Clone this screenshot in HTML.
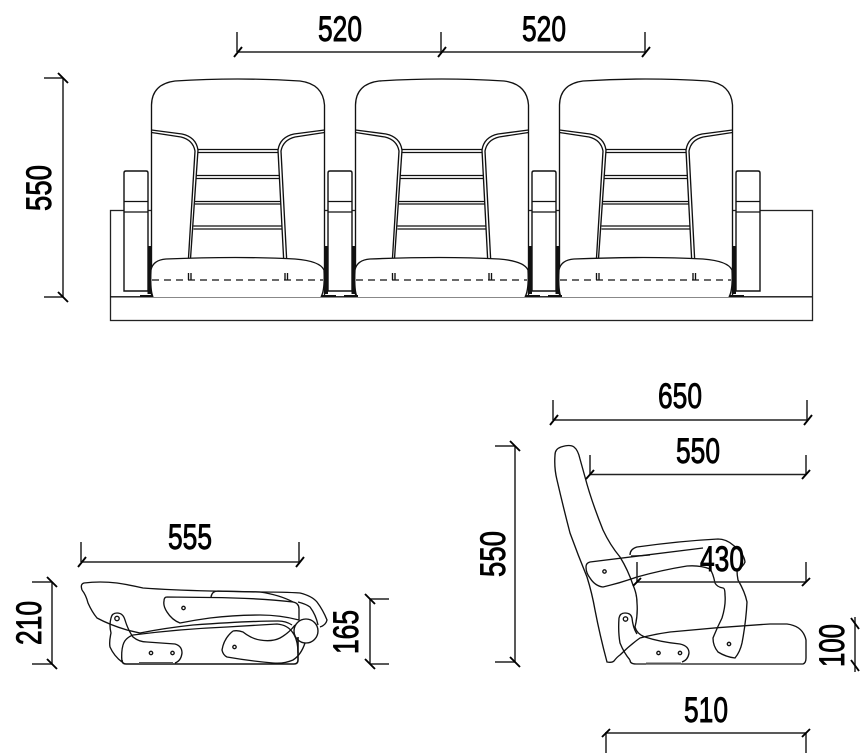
<!DOCTYPE html>
<html><head><meta charset="utf-8"><style>
html,body{margin:0;padding:0;background:#fff;width:860px;height:753px;overflow:hidden}
svg{display:block}
text{font-family:"Liberation Sans",sans-serif;fill:#000;font-size:35px;stroke:#000;stroke-width:.9}
.d{stroke:#222;stroke-width:1.5;fill:none}
.t{stroke:#000;stroke-width:1.9;fill:none}
.o{stroke:#111;stroke-width:1.35;fill:none}
</style></head><body>
<svg width="860" height="753" viewBox="0 0 860 753" xmlns="http://www.w3.org/2000/svg">
<defs>
<g id="arm">
<path d="M124 291V173Q124 171 126 171H146Q148 171 148 173V291Z" fill="#fff" stroke="#111" stroke-width="1.400"/>
<path d="M124 201.500H148M124 212H148" class="o"/>
</g>
<g id="seat" class="o">
<path d="M151.500 296V105Q152 84 175 81Q238 77 300 81Q323 84 324.500 105V296" fill="#fff"/>
<path d="M151.500 130L182 134Q196 137 198 150L190 266M151.500 132.500L181 137Q193 140 195 151L188 266"/>
<path d="M324.500 130L294 134Q280 137 278 150L284 266M324.500 132.500L295 137Q283 140 281 151L287 266"/>
<path d="M198 149.500H278M198 152.500H278M196 175.500H279M196 178.500H279M195 201.500H281M195 204H281M193.500 226H282.500M193.500 229H282.500"/>
<path d="M153 297Q150 290 151 270Q153 260 166 259Q240 256 295 259Q320 261 324 270Q325 290 321 297" fill="#fff"/>
<path d="M152 280H323" stroke-dasharray="7 5"/>
<path d="M188.500 273V280M191 273V280M285 273V280M287.500 273V280"/>
</g>
</defs>
<rect x="110.500" y="210.500" width="702" height="110" fill="none" stroke="#222" stroke-width="1.300"/>
<path d="M110 296.800H812" stroke="#111" stroke-width="1.400"/>
<use href="#arm"/><use href="#arm" x="204"/><use href="#arm" x="408"/><use href="#arm" x="612"/>
<use href="#seat"/><use href="#seat" x="204"/><use href="#seat" x="408"/>
<path d="M147.500 246H151V294H147.500ZM324.500 246H328V294H324.500ZM351.500 246H355V294H351.500ZM528.500 246H532V294H528.500ZM555.500 246H559V294H555.500ZM732.500 246H736V294H732.500Z" fill="#111"/>
<path d="M140 295H153V297H140ZM322 295H336V297H322ZM344 295H358V297H344ZM526 295H540V297H526ZM548 295H562V297H548ZM730 295H744V297H730Z" fill="#111"/>

<!-- top dims -->
<path class="d" d="M237 52H645M237 32V52M441 32V52M645 32V52"/>
<path class="t" d="M234 57L242 47M438 57L446 47M642 57L650 47"/>
<text x="318" y="41" textLength="44" lengthAdjust="spacingAndGlyphs">520</text>
<text x="522" y="41" textLength="44" lengthAdjust="spacingAndGlyphs">520</text>
<path class="d" d="M63 78V297M44 78H63M44 297H63"/>
<path class="t" d="M58 73L68 83M58 292L68 302"/>
<text transform="translate(51,211) rotate(-90)" textLength="46" lengthAdjust="spacingAndGlyphs">550</text>

<!-- folded side view -->
<g class="o">
<path d="M82 590Q80 584 84 583Q100 581 117 583Q130 585 143 588Q170 590 210 591L260 592Q285 592 300 593Q312 596 317 602Q323 610 327 620Q326 625 320 627"/>
<path d="M298 602Q306 604 310 607Q316 615 318 625"/>
<path d="M82 590Q86 595 88 603Q92 612 97 618Q110 625 127 630L140 633Q165 628 193 625Q250 621 278 621Q286 621 292 625"/>
<path d="M123 645Q125 638 133 635Q180 629 227 627L277 624Q288 625 293 633Q298 640 298 653"/>
<path d="M167 597L210 597.500Q260 598 293 602Q299 603 299 609V620Q280 615 260 615Q235 615 210 618Q195 620 180 623Q172 620 167 612Q163 606 164 601Q164 597 167 597Z"/>
<path d="M211 597Q212 591 218 591L260 592Q280 595 293 602"/>
<circle cx="306" cy="631" r="12" fill="none"/>
<path d="M111 618Q112 613 117 613Q123 613 125 620Q128 630 133 637Q139 642 147 642L175 644Q182 646 182 653Q181 661 175 663"/>
<path d="M111 618Q109 625 111 633Q109 642 110 647Q114 656 122 662"/>
<path d="M122 662Q121 652 123 645"/>
<path d="M233 631Q238 630 243 632Q252 639 260 640Q272 642 280 638Q289 633 295 625M233 631Q224 638 222 650Q223 655 227 657Q250 661 273 663Q284 664 293 660Q301 655 305 643"/>
<path d="M298 637V660Q298 664 294 664H126Q122 664 122 660" stroke-width="1.600"/>
<path d="M139 663H173" stroke-width="2" stroke="#555"/>
<circle cx="117" cy="618.500" r="2.200"/><circle cx="183.500" cy="608" r="1.700"/><circle cx="151" cy="653" r="1.700"/><circle cx="172.500" cy="653" r="1.700"/><circle cx="234.500" cy="647" r="1.700"/>
</g>
<path class="d" d="M81 562H299M81 542V562M299 542V562"/>
<path class="t" d="M78 567L86 557M296 567L304 557"/>
<text x="168" y="549" textLength="44" lengthAdjust="spacingAndGlyphs">555</text>
<path class="d" d="M52 582V664M32 582H52M32 664H52"/>
<path class="t" d="M47 577L57 587M47 659L57 669"/>
<text transform="translate(41,645) rotate(-90)" textLength="44" lengthAdjust="spacingAndGlyphs">210</text>
<path class="d" d="M370 599V664M370 599H389M370 664H389"/>
<path class="t" d="M365 594L375 604M365 659L375 669"/>
<text transform="translate(358,654) rotate(-90)" textLength="44" lengthAdjust="spacingAndGlyphs">165</text>

<!-- upright side view -->
<g class="o">
<path d="M555 455Q555 449 561 447Q570 444 574 447Q578 450 580 459L585 477Q591 500 603 530Q610 545 620 557Q628 570 633 585Q637 594 637 603Q638 615 635 627Q637 634 645 637Q660 642 680 644Q689 646 689 653Q688 660 682 662"/>
<path d="M555 455Q554 468 557 480Q563 506 570 533Q578 555 587 577Q592 593 595 610Q600 636 607 662Q612 663 614 661Q617 657 620 655Q630 645 640 638Q655 634 670 632Q720 627 770 624H787Q803 626 806 640V658Q806 663 803 664H636Q630 664 630 660"/>
<path d="M619 618Q620 613 625 613Q631 613 632 618Q633 628 637 634M619 618Q618 632 620 643Q624 653 630 660"/>
<path d="M630 555Q630 549 637 547Q680 541 718 539Q726 539 733 545Q744 553 745 562Q743 567 737 570Q737 575 738 580Q745 592 747 602Q746 622 742 643Q740 652 735 658Q726 657 718 652Q713 646 713 638Q717 628 722 618Q726 605 725 595Q725 588 723 588Q717 587 715 583Q713 573 710 569Q700 565 687 566Q662 570 637 577Q620 583 603 587Q595 586 590 578Q586 573 586 567Q586 563 590 562Q645 555 703 548"/>
<path d="M631 556Q640 556 650 555"/>
<circle cx="604.500" cy="571.500" r="1.700"/><circle cx="625.500" cy="619" r="2.200"/><circle cx="658.500" cy="653" r="1.700"/><circle cx="680" cy="653" r="1.700"/><circle cx="729" cy="644" r="1.700"/>
</g>
<path d="M646 663.500H681" stroke="#555" stroke-width="2"/>
<path class="d" d="M553 420H807M553 400V420M807 400V420"/>
<path class="t" d="M550 425L558 415M804 425L812 415"/>
<text x="658" y="408" textLength="44" lengthAdjust="spacingAndGlyphs">650</text>
<path class="d" d="M590 474.500H806M590 455V474.500M806 455V474.500"/>
<path class="t" d="M586 479L594 470M802 479L810 470"/>
<text x="676" y="463" textLength="44" lengthAdjust="spacingAndGlyphs">550</text>
<path class="d" d="M637 582H806M637 562V582M806 562V582"/>
<path class="t" d="M633 586L641 578M802 586L810 578"/>
<text x="700" y="571" textLength="44" lengthAdjust="spacingAndGlyphs">430</text>
<path class="d" d="M605 733H806M606 733V753M806 733V753"/>
<path class="t" d="M602 737L610 729M802 737L810 729"/>
<text x="684" y="722" textLength="44" lengthAdjust="spacingAndGlyphs">510</text>
<path class="d" d="M515 446V662M495 446H515M495 662H515"/>
<path class="t" d="M510 441L520 451M510 657L520 667"/>
<text transform="translate(505,577) rotate(-90)" textLength="46" lengthAdjust="spacingAndGlyphs">550</text>
<path class="d" d="M855 617V672"/>
<path class="t" d="M851 618L859 629M851 660L859 671"/>
<text transform="translate(844,667) rotate(-90)" textLength="43" lengthAdjust="spacingAndGlyphs">100</text>
</svg>
</body></html>
